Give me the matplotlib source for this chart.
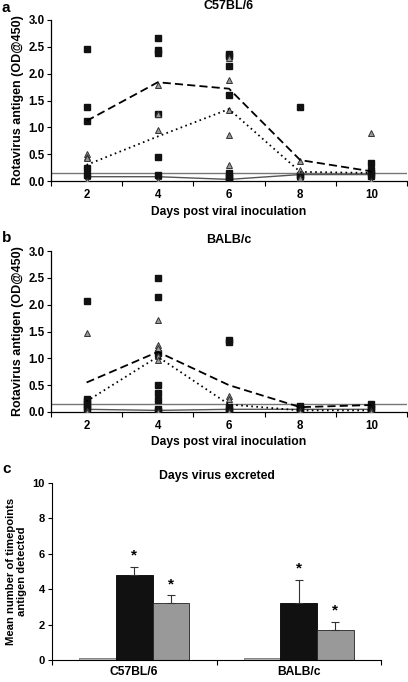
"""Rotavirus antigen shedding in C57BL/6 and BALB/c mice."""

import matplotlib
matplotlib.use("Agg")
import matplotlib.pyplot as plt
import numpy as np

plt.rcParams["font.family"] = ["Liberation Sans", "DejaVu Sans"]
plt.rcParams["font.weight"] = "bold"

days = [2, 4, 6, 8, 10]

# panel a: C57BL/6 individual mice (squares = group 1, triangles = group 2)
c57_squares = [
    [2.46, 1.38, 1.12, 0.24, 0.12],
    [2.67, 2.44, 2.38, 1.25, 0.45, 0.12],
    [2.36, 2.33, 2.15, 1.61, 0.15, 0.10, 0.05, 0.02],
    [1.38, 0.12, 0.10],
    [0.33, 0.20, 0.15, 0.10],
]
c57_triangles = [
    [0.50, 0.45, 0.42, 0.0],
    [1.78, 1.25, 0.95, 0.0],
    [2.30, 1.89, 1.32, 0.85, 0.30],
    [0.38, 0.20, 0.05],
    [0.90, 0.0],
]
c57_controls = [[0.10], [0.10], [0.05], [0.12], [0.12]]
c57_sq_mean = [1.12, 1.84, 1.72, 0.39, 0.18]
c57_tri_mean = [0.30, 0.83, 1.34, 0.17, 0.15]
c57_ctrl_mean = [0.08, 0.08, 0.03, 0.12, 0.12]
c57_cutoff = 0.14

# panel b: BALB/c
balb_squares = [
    [2.06, 0.25, 0.20, 0.15, 0.10, 0.05],
    [2.49, 2.15, 1.10, 0.50, 0.35, 0.22, 0.05, 0.02],
    [1.35, 1.30, 0.10, 0.05, 0.02],
    [0.12, 0.08, 0.05],
    [0.15, 0.10, 0.06],
]
balb_triangles = [
    [1.47, 0.02, 0.0],
    [1.72, 1.25, 1.20, 1.05, 0.97, 0.0],
    [0.30, 0.25, 0.0],
    [0.02, 0.0],
    [0.02, 0.0],
]
balb_controls = [[0.05], [0.03], [0.05], [0.05], [0.05]]
balb_sq_mean = [0.55, 1.12, 0.50, 0.09, 0.13]
balb_tri_mean = [0.20, 1.03, 0.14, 0.03, 0.03]
balb_ctrl_mean = [0.05, 0.03, 0.05, 0.05, 0.05]
balb_cutoff = 0.15

# panel c: days virus excreted
strains = ["C57BL/6", "BALB/c"]
ctrl_days = [0.12, 0.12]
grp1_days = [4.8, 3.2]
grp1_err = [0.45, 1.32]
grp2_days = [3.2, 1.67]
grp2_err = [0.45, 0.50]

W, H = 408, 682
fig = plt.figure(figsize=(W / 100, H / 100), dpi=100)


def px_axes(left, top, right, bottom):
    return fig.add_axes([left / W, 1 - bottom / H, (right - left) / W, (bottom - top) / H])


def time_panel(ax, title, squares, triangles, controls, sq_mean, tri_mean, ctrl_mean, cutoff,
               title_pad):
    ax.axhline(cutoff, color="#777777", lw=1.0, zorder=1)
    ax.plot(days, ctrl_mean, color="#555555", lw=1.0, zorder=2)
    for d, vals in zip(days, controls):
        ax.plot([d] * len(vals), vals, "s", ms=3.6, mfc="white", mec="#333333", mew=0.8, zorder=3)
    for d, vals in zip(days, squares):
        ax.plot([d] * len(vals), vals, "s", ms=3.8, color="#111111", zorder=4)
    for d, vals in zip(days, triangles):
        ax.plot([d] * len(vals), vals, "^", ms=4.2, mfc="#9a9a9a", mec="#333333", mew=0.7, zorder=5)
    ax.plot(days, sq_mean, color="black", lw=1.3, dashes=(4.5, 2.3), zorder=6)
    ax.plot(days, tri_mean, color="black", lw=1.3, dashes=(0.9, 1.9), zorder=6)

    ax.set_xlim(1, 11)
    ax.set_ylim(0, 3.0)
    ax.set_xticks(days)
    ax.set_xticks(np.arange(1, 12, 2), minor=True)
    ax.set_yticks(np.arange(0, 3.01, 0.5))
    ax.set_yticklabels([f"{v:.1f}" for v in np.arange(0, 3.01, 0.5)])
    ax.tick_params(axis="x", which="major", length=0, pad=6, labelsize=8.3)
    ax.tick_params(axis="x", which="minor", length=3.5, width=0.8)
    ax.tick_params(axis="y", length=3, width=0.8, pad=1.5, labelsize=8.3)
    for s in ("top", "right"):
        ax.spines[s].set_visible(False)
    for s in ("left", "bottom"):
        ax.spines[s].set_linewidth(0.9)
    ax.set_title(title, fontsize=9, fontweight="bold", pad=title_pad)
    ax.set_xlabel("Days post viral inoculation", fontsize=8.7, fontweight="bold", labelpad=3)
    ax.set_ylabel("Rotavirus antigen (OD@450)", fontsize=9, fontweight="bold", labelpad=3)


ax_a = px_axes(51, 20, 407, 181)
time_panel(ax_a, "C57BL/6", c57_squares, c57_triangles, c57_controls,
           c57_sq_mean, c57_tri_mean, c57_ctrl_mean, c57_cutoff, title_pad=8)

ax_b = px_axes(51, 251, 407, 412)
time_panel(ax_b, "BALB/c", balb_squares, balb_triangles, balb_controls,
           balb_sq_mean, balb_tri_mean, balb_ctrl_mean, balb_cutoff, title_pad=6)

ax_c = px_axes(52, 483, 381, 660)
x = np.arange(len(strains))
bw = 0.222
ax_c.bar(x - bw, ctrl_days, bw, color="#b5b5b5", edgecolor="#777777", lw=0.6)
ax_c.bar(x, grp1_days, bw, color="#111111", edgecolor="black", lw=0.6)
ax_c.bar(x + bw, grp2_days, bw, color="#999999", edgecolor="#222222", lw=0.6)
ax_c.errorbar(x, grp1_days, yerr=[np.zeros(2), grp1_err], fmt="none",
              ecolor="#333333", elinewidth=0.8, capsize=3, capthick=0.8)
ax_c.errorbar(x + bw, grp2_days, yerr=[np.zeros(2), grp2_err], fmt="none",
              ecolor="#333333", elinewidth=0.8, capsize=3, capthick=0.8)
for xi, top in zip(x, np.add(grp1_days, grp1_err)):
    ax_c.text(xi, top + 0.25, "*", ha="center", va="bottom", fontsize=11, fontweight="bold")
for xi, top in zip(x + bw, np.add(grp2_days, grp2_err)):
    ax_c.text(xi, top + 0.25, "*", ha="center", va="bottom", fontsize=11, fontweight="bold")

ax_c.set_xlim(-0.5, 1.5)
ax_c.set_ylim(0, 10)
ax_c.set_yticks(range(0, 11, 2))
ax_c.set_xticks(x)
ax_c.set_xticklabels(strains)
ax_c.set_xticks([-0.5, 0.5, 1.5], minor=True)
ax_c.tick_params(axis="x", which="major", length=0, pad=4, labelsize=8.7)
ax_c.tick_params(axis="x", which="minor", length=3.5, width=0.8)
ax_c.tick_params(axis="y", length=3, width=0.8, pad=2, labelsize=8)
for s in ("top", "right"):
    ax_c.spines[s].set_visible(False)
ax_c.set_title("Days virus excreted", fontsize=8.8, fontweight="bold", pad=3)
ax_c.set_ylabel("Mean number of timepoints\nantigen detected", fontsize=8.1,
                fontweight="bold", labelpad=4, linespacing=1.2)

for letter, ypx in (("a", 8), ("b", 238), ("c", 469)):
    fig.text(2 / W, 1 - ypx / H, letter, fontsize=11, fontweight="bold", va="center", ha="left")

fig.savefig("out.png", dpi=100)
